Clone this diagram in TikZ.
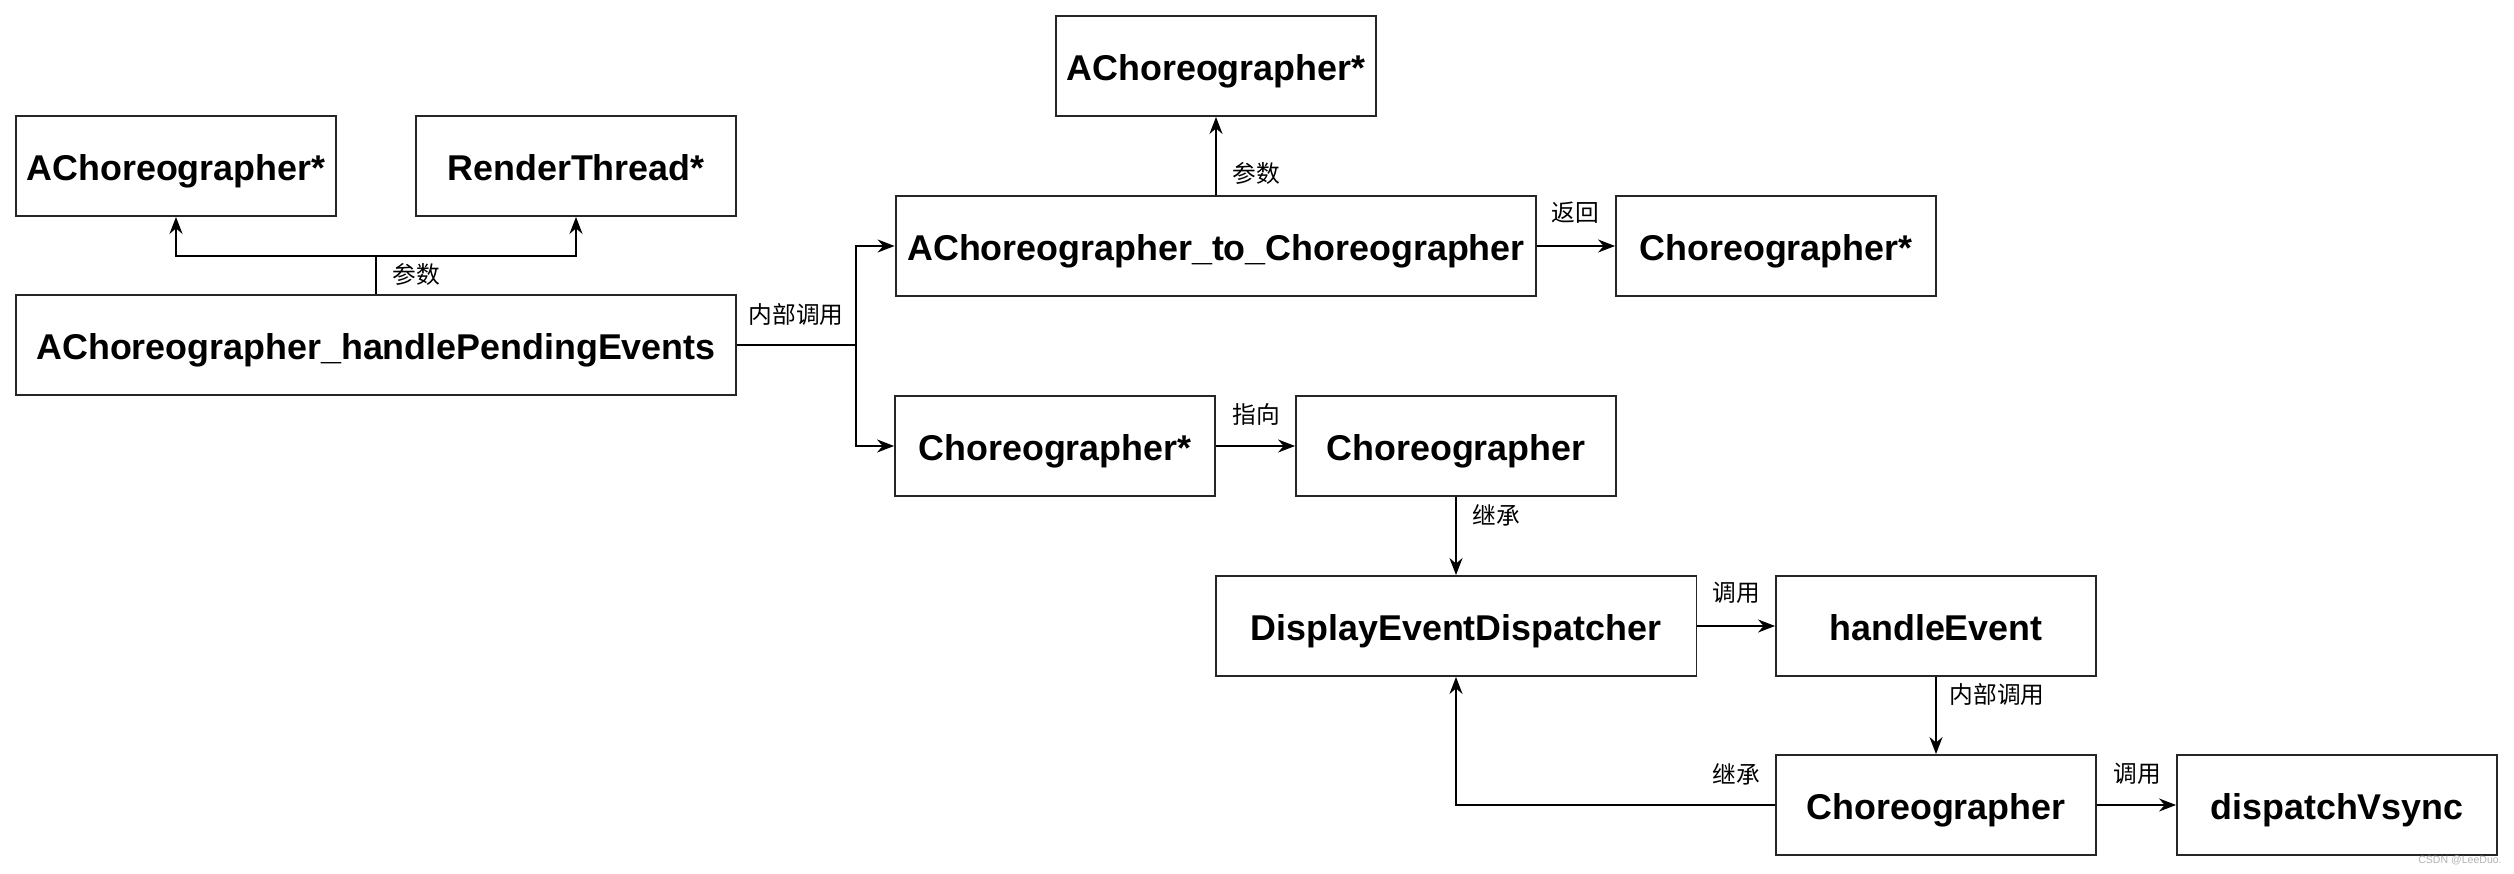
\documentclass[tikz,border=0pt]{standalone}
\usepackage{fontspec}
\setmainfont{Liberation Sans}
\newfontfamily\cjk{Noto Sans CJK SC}
\usetikzlibrary{arrows.meta,positioning}

\begin{document}
\begin{tikzpicture}[x=0.02cm, y=-0.02cm,
    box/.style={draw=black!85, line width=1.1pt, minimum width=6.4cm, minimum height=2cm,
      inner sep=0pt, text height=20pt, text depth=4pt, font=\fontsize{20.4}{24}\selectfont\bfseries},
    wbox/.style={box, minimum width=#1},
    lbl/.style={font=\cjk\fontsize{13.5}{15}\selectfont, inner sep=1pt},
    link/.style={line width=1.1pt, -{Stealth[length=0.34cm, width=0.26cm, inset=0.11cm]}}]
  \useasboundingbox (0,0) rectangle (2514,874);

  % left group
  \node[box] (ac1) at (176,166) {AChoreographer*};
  \node[box] (rt) at (576,166) {RenderThread*};
  \node[wbox=14.4cm] (hpe) at (376,345) {AChoreographer\_handlePendingEvents};

  % upper chain
  \node[box] (ac2) at (1216,66) {AChoreographer*};
  \node[wbox=12.82cm] (a2c) at (1216,246) {AChoreographer\_to\_Choreographer};
  \node[box] (cpr) at (1776,246) {Choreographer*};

  % lower chain
  \node[box] (cpm) at (1055,446) {Choreographer*};
  \node[box] (ch) at (1456,446) {Choreographer};
  \node[wbox=9.62cm] (ded) at (1456,626) {DisplayEventDispatcher};
  \node[box] (he) at (1936,626) {handleEvent};
  \node[box] (chb) at (1936,805) {Choreographer};
  \node[box] (dv) at (2337,805) {dispatchVsync};

  % connectors
  \coordinate (pj) at (376,256);
  \draw[line width=1.1pt] (hpe.north) -- (pj);
  \draw[link] (pj) -| (ac1.south);
  \draw[link] (pj) -| (rt.south);
  \node[lbl] (l1) at (416,274) {参数};

  \coordinate (br) at (856,345);
  \draw[line width=1.1pt] (hpe.east) -- (br);
  \draw[link] (br) |- (a2c.west);
  \draw[link] (br) |- (cpm.west);
  \node[lbl] (l2) at (796,315) {内部调用};

  \draw[link] (a2c.north) -- (ac2.south);
  \node[lbl] (l3) at (1256,173) {参数};
  \draw[link] (a2c.east) -- (cpr.west);
  \node[lbl] (l4) at (1575,213) {返回};

  \draw[link] (cpm.east) -- (ch.west);
  \node[lbl] (l5) at (1256,414) {指向};
  \draw[link] (ch.south) -- (ded.north);
  \node[lbl] (l6) at (1496,515) {继承};
  \draw[link] (ded.east) -- (he.west);
  \node[lbl] (l7) at (1736,593) {调用};
  \draw[link] (he.south) -- (chb.north);
  \node[lbl] (l8) at (1997,694) {内部调用};
  \draw[link] (chb.west) -| (ded.south);
  \node[lbl] (l9) at (1736,774) {继承};
  \draw[link] (chb.east) -- (dv.west);
  \node[lbl] (l10) at (2137,774) {调用};

  \node[text=black!30, font=\fontsize{6}{7}\selectfont, anchor=east, inner sep=0pt] (wm) at (2502,860) {CSDN @LeeDuo.};
\end{tikzpicture}
\end{document}
